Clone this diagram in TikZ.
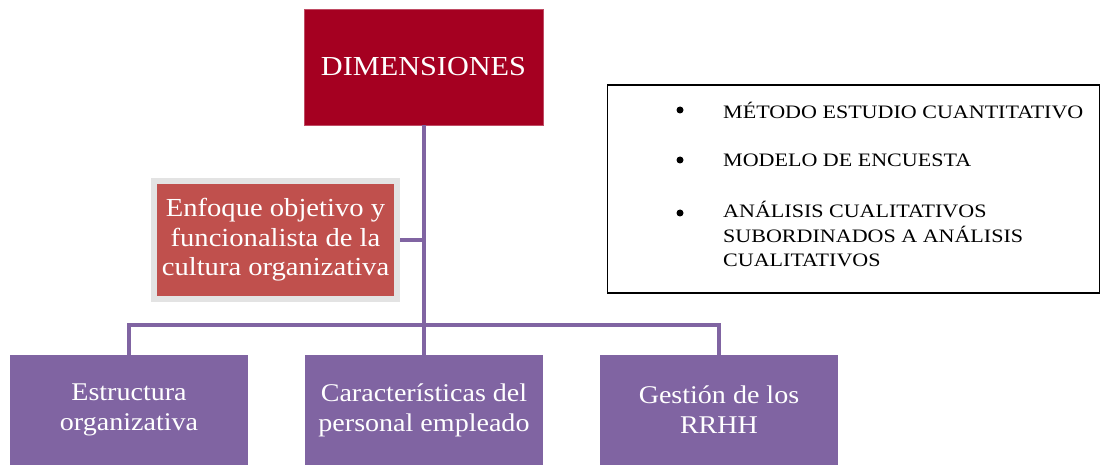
\documentclass[tikz,border=0pt]{standalone}
\usepackage{fontspec}
\setmainfont{Liberation Serif}[FakeStretch=1.1]
\newfontfamily\listfont{Liberation Serif}[FakeStretch=1.16]
\definecolor{dimred}{HTML}{A50021}
\definecolor{enfred}{HTML}{C0504D}
\definecolor{purp}{HTML}{8064A2}
\definecolor{lgray}{HTML}{E3E3E3}
\begin{document}
\begin{tikzpicture}[x=1pt,y=-1pt,
  conn/.style={draw=purp,line width=4.5pt},
  topbox/.style={fill=dimred,draw=dimred!70!white,line width=0.6pt,text=white,minimum width=239pt,minimum height=116pt,inner sep=0pt,font=\fontsize{27.5}{32}\selectfont,align=center},
  enfbox/.style={fill=enfred,draw=lgray,line width=6pt,text=white,minimum width=243pt,minimum height=118pt,inner sep=0pt,font=\fontsize{26}{29.5}\selectfont,align=center},
  botbox/.style={fill=purp,draw=none,text=white,minimum width=238pt,minimum height=110pt,inner sep=0pt,font=\fontsize{25.5}{30}\selectfont,align=center},
  listbox/.style={draw=black,line width=1.8pt,minimum width=492pt,minimum height=208pt,inner sep=0pt},
  bul/.style={circle,fill=black,inner sep=0pt,minimum size=7pt},
  item/.style={anchor=west,inner sep=0pt,font=\listfont\fontsize{19}{24.5}\selectfont,align=left}
]
\useasboundingbox (0,0) rectangle (1101,465);
\node[topbox] (dim) at (423.5,67) {DIMENSIONES};
\node[enfbox] (enf) at (275.5,240) {Enfoque objetivo y\\funcionalista de la\\cultura organizativa};
\node[botbox] (b1) at (129,410) {Estructura\\organizativa};
\node[botbox] (b2) at (424,410) {Características del\\personal empleado};
\node[botbox] (b3) at (719,410) {Gestión de los\\RRHH};
\node[listbox] (list) at (853.5,189) {};
\coordinate (hub) at (424,240);
\coordinate (bar) at (424,325);
\coordinate (barl) at (129,325);
\coordinate (barr) at (719,325);
\draw[conn] (dim.south -| hub) -- (bar);
\draw[conn] (enf.east) -- (hub);
\draw[conn,line cap=rect] (barl) -- (barr);
\draw[conn] (barl) -- (b1.north);
\draw[conn] (bar) -- (b2.north);
\draw[conn] (barr) -- (b3.north);
\node[bul] (bu1) at (680,110) {};
\node[bul] (bu2) at (680,160) {};
\node[bul] (bu3) at (680,213) {};
\node[item] (t1) at (723,110) {MÉTODO ESTUDIO CUANTITATIVO};
\node[item] (t2) at (723,160) {MODELO DE ENCUESTA};
\node[item,anchor=north west] (t3) at (723,201) {ANÁLISIS CUALITATIVOS\\SUBORDINADOS A ANÁLISIS\\CUALITATIVOS};
\end{tikzpicture}
\end{document}
